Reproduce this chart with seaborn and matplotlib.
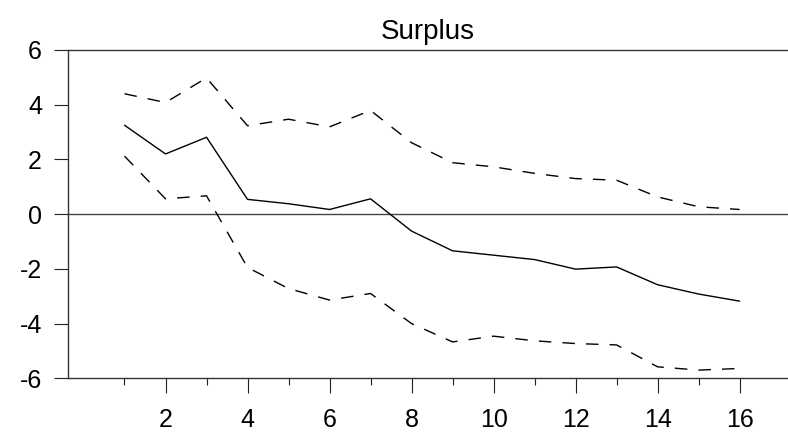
import numpy as np
import pandas as pd
import matplotlib
matplotlib.use("Agg")
import matplotlib.pyplot as plt
import seaborn as sns

# ---------------------------------------------------------------
# data (impulse response + bands)
# ---------------------------------------------------------------
steps = list(range(1, 17))
response = [3.25, 2.20, 2.81, 0.54, 0.38, 0.17, 0.56, -0.62,
            -1.34, -1.50, -1.66, -2.01, -1.93, -2.58, -2.92, -3.18]
upper_band = [4.40, 4.08, 4.98, 3.23, 3.47, 3.19, 3.79, 2.61,
              1.88, 1.73, 1.49, 1.30, 1.24, 0.63, 0.27, 0.17]
lower_band = [2.12, 0.56, 0.67, -1.95, -2.72, -3.14, -2.90, -4.00,
              -4.67, -4.46, -4.63, -4.73, -4.78, -5.58, -5.70, -5.64]
title = "Surplus"
y_ticks = [-6, -4, -2, 0, 2, 4, 6]
x_major = list(range(2, 17, 2))
x_minor = list(range(1, 17, 2))

df = pd.DataFrame({"step": steps, "response": response,
                   "upper": upper_band, "lower": lower_band})

sns.set_style("ticks")
plt.rcParams["font.family"] = ["Liberation Sans", "DejaVu Sans"]
plt.rcParams["axes.unicode_minus"] = False
plt.rcParams["text.color"] = "black"
plt.rcParams["xtick.color"] = "black"
plt.rcParams["ytick.color"] = "black"

fig = plt.figure(figsize=(7.88, 4.32), dpi=100)
ax = fig.add_axes([0.0867, 0.1243, 0.9133, 0.7600])

dash = (0, (9.0, 8.0))
sns.lineplot(data=df, x="step", y="response", ax=ax, color="black", lw=1.0)
sns.lineplot(data=df, x="step", y="upper", ax=ax, color="black", lw=1.0, linestyle=dash)
sns.lineplot(data=df, x="step", y="lower", ax=ax, color="black", lw=1.0, linestyle=dash)
ax.axhline(0, color="#444444", lw=1.0, zorder=1)

ax.set_xlim(-0.37, 17.18)
ax.set_ylim(-6, 6)
ax.set_xticks(x_major)
ax.set_xticks(x_minor, minor=True)
ax.set_yticks(y_ticks)
ax.set_xlabel("")
ax.set_ylabel("")
ax.set_title(title, fontsize=20, pad=8, color="black")

ax.tick_params(axis="both", which="major", labelsize=18, width=0.8,
               color="#222222", labelcolor="black")
ax.tick_params(axis="x", which="major", length=11, pad=10.5)
ax.tick_params(axis="x", which="minor", length=5, width=0.8, color="#222222")
ax.tick_params(axis="y", which="major", length=10, pad=9)

ax.spines["right"].set_visible(False)
for side in ["left", "top", "bottom"]:
    ax.spines[side].set_linewidth(1.0)
    ax.spines[side].set_color("#333333")

fig.savefig("out.png", dpi=100)
